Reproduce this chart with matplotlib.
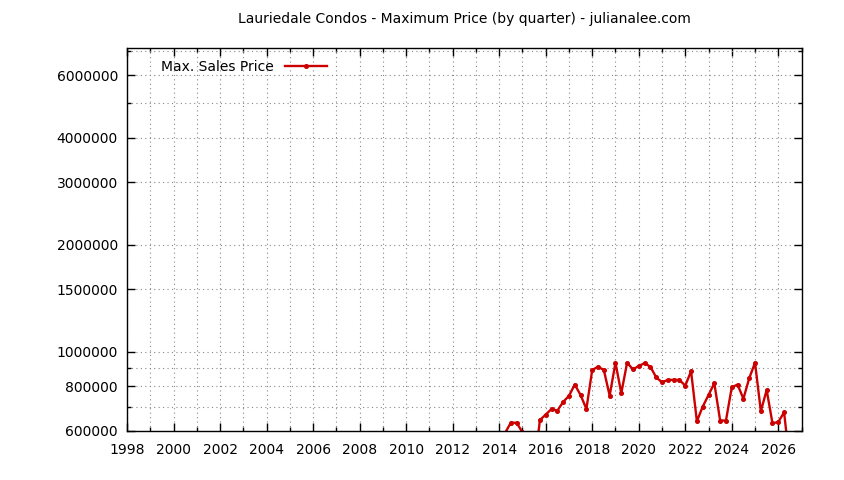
import numpy as np
import matplotlib
matplotlib.use('Agg')
import matplotlib.pyplot as plt
from matplotlib.ticker import FixedLocator, FuncFormatter, MultipleLocator

# quarterly maximum sale prices (values under 600000 fall off the chart)
quarters = np.arange(2014.25, 2026.51, 0.25)
max_price = [
    590000, 631000, 631000, 593000, 520000, 460000, 642000, 665000,
    690000, 682000, 722000, 751000, 808000, 755000, 690000, 888000,
    907000, 888000, 752000, 931000, 764000, 931000, 892000, 911000,
    928000, 907000, 847000, 820000, 833000, 833000, 833000, 802000,
    881000, 637000, 700000, 755000, 815000, 640000, 640000, 794000,
    808000, 737000, 842000, 931000, 680000, 780000, 629000, 634000,
    675000, 480000,
]

y_major = [600000, 800000, 1000000, 1500000, 2000000, 3000000, 4000000, 6000000]
y_minor = [700000, 900000, 5000000, 7000000]

fig = plt.figure(figsize=(8.44, 4.8), dpi=100)
ax = fig.add_axes([0.1505, 0.1031, 0.7992, 0.7969])

ax.plot(quarters[:len(max_price)], max_price, color='#cc0000', linewidth=1.7,
        marker='o', markersize=2.6, label='Max. Sales Price')

ax.set_yscale('log')
ax.set_xlim(1998, 2027)
ax.set_ylim(600000, 7150000)

ax.yaxis.set_major_locator(FixedLocator(y_major))
ax.yaxis.set_minor_locator(FixedLocator(y_minor))
ax.yaxis.set_major_formatter(FuncFormatter(lambda v, p: '%d' % v))
ax.yaxis.set_minor_formatter(FuncFormatter(lambda v, p: ''))
ax.xaxis.set_major_locator(MultipleLocator(2))
ax.xaxis.set_minor_locator(MultipleLocator(1))

ax.tick_params(which='both', direction='in', top=True, right=True,
               labelsize=10, width=1)
ax.tick_params(which='major', length=6)
ax.tick_params(which='minor', length=3)
ax.tick_params(axis='x', which='major', pad=9)
ax.tick_params(axis='y', which='major', pad=6.5)

ax.grid(True, which='both', color='#888888', linestyle=(0, (1, 3)), linewidth=0.8)
for s in ax.spines.values():
    s.set_linewidth(1)

ax.set_title('Lauriedale Condos - Maximum Price (by quarter) - julianalee.com',
             fontsize=10, pad=18)

ax.legend(loc='upper left', frameon=False, markerfirst=False, fontsize=10,
          handlelength=3.0, borderaxespad=0.3, bbox_to_anchor=(0.036, 0.995))

fig.savefig('out.png', dpi=100)
